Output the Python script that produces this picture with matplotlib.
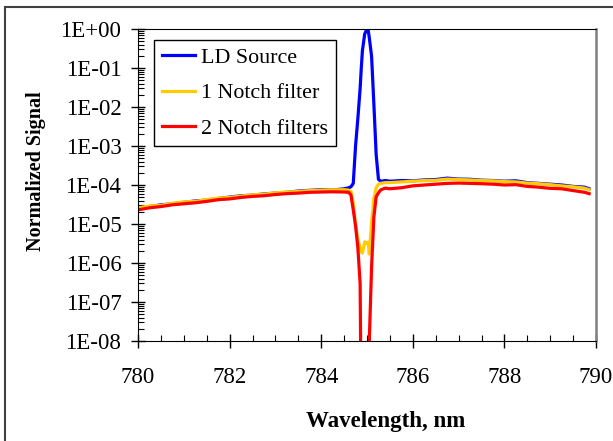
import matplotlib.pyplot as plt
from matplotlib.patches import Rectangle
from matplotlib.ticker import LogLocator, MultipleLocator, FuncFormatter

plt.rcParams['font.family'] = ['Liberation Serif', 'DejaVu Serif']

# wavelength grid (nm): coarse on the wings, fine around the 785 nm line
wl = [780.0, 780.25, 780.5, 780.75, 781.0, 781.25, 781.5, 781.75, 782.0, 782.25,
      782.5, 782.75, 783.0, 783.25, 783.5, 783.75, 784.0, 784.25, 784.5,
      784.6, 784.65, 784.7, 784.75, 784.8, 784.85, 784.875, 784.9, 784.95, 785.0,
      785.025, 785.05, 785.1, 785.15, 785.2, 785.25, 785.3, 785.4,
      785.5, 785.75, 786.0, 786.25, 786.5, 786.75, 787.0, 787.25, 787.5, 787.75,
      788.0, 788.25, 788.5, 788.75, 789.0, 789.25, 789.5, 789.75, 789.85]

ld_source = [2.5e-5, 2.8e-5, 3.1e-5, 3.3e-5, 3.6e-5, 3.9e-5, 4.1e-5, 4.5e-5, 4.9e-5, 5.3e-5,
             5.5e-5, 5.9e-5, 6.2e-5, 6.5e-5, 7.0e-5, 7.3e-5, 7.6e-5, 7.4e-5, 8.0e-5,
             8.5e-5, 9.0e-5, 1.1e-4, 1.0e-3, 5e-3, 3e-2, 0.1, 0.28, 0.75, 1.0,
             0.95, 0.6, 0.2, 1.2e-2, 6e-4, 1.4e-4, 1.25e-4, 1.3e-4,
             1.25e-4, 1.3e-4, 1.28e-4, 1.35e-4, 1.38e-4, 1.5e-4, 1.42e-4, 1.4e-4, 1.33e-4, 1.3e-4,
             1.25e-4, 1.28e-4, 1.15e-4, 1.1e-4, 1.05e-4, 1.0e-4, 9.2e-5, 8.8e-5, 8.0e-5]

one_notch = [2.6e-5, 2.9e-5, 3.0e-5, 3.4e-5, 3.7e-5, 3.8e-5, 4.2e-5, 4.6e-5, 4.8e-5, 5.2e-5,
             5.6e-5, 5.8e-5, 6.3e-5, 6.6e-5, 6.8e-5, 7.2e-5, 7.4e-5, 7.5e-5, 7.6e-5,
             7.4e-5, 6.8e-5, 3.5e-5, 1.0e-5, 4e-6, 2.5e-6, 2.0e-6, 1.8e-6, 3.5e-6, 3.2e-6,
             3.4e-6, 1.7e-6, 1.1e-5, 4.5e-5, 8.5e-5, 1.05e-4, 1.1e-4, 1.15e-4,
             1.15e-4, 1.2e-4, 1.25e-4, 1.3e-4, 1.32e-4, 1.42e-4, 1.38e-4, 1.35e-4, 1.3e-4, 1.28e-4,
             1.22e-4, 1.2e-4, 1.12e-4, 1.08e-4, 1.02e-4, 9.5e-5, 9.0e-5, 8.3e-5, 7.6e-5]

two_notch = [2.3e-5, 2.6e-5, 2.8e-5, 3.1e-5, 3.3e-5, 3.5e-5, 3.8e-5, 4.2e-5, 4.4e-5, 4.8e-5,
             5.1e-5, 5.3e-5, 5.7e-5, 6.0e-5, 6.2e-5, 6.5e-5, 6.6e-5, 6.7e-5, 6.6e-5,
             6.5e-5, 5.5e-5, 2.3e-5, 9e-6, 2.5e-6, 3e-7, 1e-10, 1e-10, 1e-10, 8e-9,
             1e-10, 1e-8, 8e-7, 1.5e-5, 5e-5, 6.3e-5, 7.5e-5, 8.3e-5,
             8.0e-5, 8.5e-5, 9.5e-5, 1.0e-4, 1.05e-4, 1.1e-4, 1.12e-4, 1.1e-4, 1.08e-4, 1.05e-4,
             1.0e-4, 1.02e-4, 9.2e-5, 8.8e-5, 8.2e-5, 8.0e-5, 7.2e-5, 6.5e-5, 6.0e-5]

fig = plt.figure(figsize=(6.13, 4.41), dpi=100)
ax = fig.add_axes([138/613, 1 - 341/441, 458/613, 312/441])

ax.plot(wl, ld_source, color='#0000FF', lw=2.3, label='LD Source')
ax.plot(wl, one_notch, color='#FFCC00', lw=2.3, label='1 Notch filter')
ax.plot(wl, two_notch, color='#FF0000', lw=2.3, label='2 Notch filters')

ax.set_yscale('log')
ax.set_xlim(780, 790)
ax.set_ylim(1e-8, 1)
ax.yaxis.set_major_locator(LogLocator(base=10, numticks=20))
ax.yaxis.set_minor_locator(LogLocator(base=10, subs=range(2, 10), numticks=20))
ax.yaxis.set_major_formatter(FuncFormatter(lambda v, p: '%.0E' % v))
ax.xaxis.set_major_locator(MultipleLocator(2))
ax.xaxis.set_minor_locator(MultipleLocator(0.5))

ax.tick_params(which='major', direction='inout', length=10, width=1, labelsize=16.5)
ax.tick_params(axis='x', which='major', pad=14)
ax.tick_params(axis='y', which='major', pad=7)
ax.tick_params(which='minor', direction='in', length=4, width=0.8)
ax.tick_params(top=False, right=False, which='both')

ax.spines['right'].set_color('#808080')
ax.spines['right'].set_linewidth(1.8)

ax.set_xlabel('Wavelength, nm', fontsize=16.5, fontweight='bold')
ax.set_ylabel('Normalized Signal', fontsize=14.5, fontweight='bold')
ax.xaxis.set_label_coords(0.54, -0.225)
ax.yaxis.set_label_coords(-0.2, 0.543)

leg = ax.legend(loc='upper left', bbox_to_anchor=(0.035, 0.965), borderaxespad=0,
                fontsize=15.8, handlelength=1.5, labelspacing=0.68, fancybox=False,
                edgecolor='black', framealpha=1, borderpad=0.35, handletextpad=0.3)
leg.get_frame().set_linewidth(1)

# outer chart border
fig.patches.append(Rectangle((5/613, -0.05), 1.1, 1 - 7/441 + 0.05, transform=fig.transFigure,
                             fill=False, edgecolor='#404040', lw=1.5))

fig.savefig('out.png', dpi=100)
